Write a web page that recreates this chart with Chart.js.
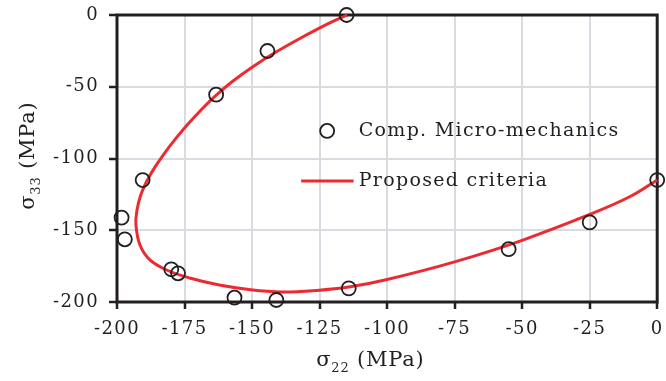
<!DOCTYPE html>
<html>
<head>
<meta charset="utf-8">
<script src="https://cdn.jsdelivr.net/npm/chart.js"></script>
<style>
  html, body { margin: 0; padding: 0; background: #fff; }
  #wrap { width: 666px; height: 381px; }
</style>
</head>
<body>
<div id="wrap"><canvas id="chart"></canvas></div>
<script>
// Comp. Micro-mechanics results (sigma22, sigma33)
var microS22 = [-115, -144.3, -163.3, -190.5, -198.3, -197.1, -179.9, -177.4, -156.5, -141, -114.2, -55, -25, 0];
var microS33 = [0, -25.1, -55.5, -115, -141.2, -156.3, -177.2, -180, -197, -198.6, -190.5, -163.2, -144.5, -115];

// Proposed criteria curve
var critS22 = [-114.8, -121.8, -131.95, -141.3, -149.7, -157.05, -163.35, -168.8, -173.7, -178.2, -182.3, -185.95, -189.05, -191.3, -192.6, -193.0,
               -191.5, -187.8, -181.6, -173.1, -162.1, -150.5, -139, -126.4, -114.2, -100, -75, -50, -25, -10, 0];
var critS33 = [0, -6, -16, -26, -36, -46, -56, -66, -76, -86, -96, -106, -116, -126, -136, -146,
               -160.3, -170.7, -177.7, -183.3, -188.2, -191.5, -193, -192, -189.6, -184.3, -172, -157, -139, -126.5, -115];

var xTicks = [-200, -175, -150, -125, -100, -75, -50, -25, 0];
var yTicks = [-200, -150, -100, -50, 0];

var FONT = 'DejaVu Serif';
var INK = '#231f20';

function pts(xs, ys) {
  return xs.map(function (x, i) { return { x: x, y: ys[i] }; });
}

function noPadding() { return { left: 0, top: 0, right: 0, bottom: 0 }; }

// wider letter spacing, like the original typeface
var spacingPlugin = {
  id: 'spacing',
  beforeDraw: function (chart) { chart.ctx.letterSpacing = '1.4px'; }
};

// black box round the plot area
var framePlugin = {
  id: 'frame',
  beforeDatasetsDraw: function (chart) {
    var a = chart.chartArea, c = chart.ctx;
    c.save();
    c.strokeStyle = INK;
    c.lineWidth = 3;
    c.strokeRect(a.left, a.top, a.right - a.left, a.bottom - a.top);
    c.restore();
  }
};

// sigma with subscript, then unit
function drawSubTitle(c, sym, sub, rest, cx, cy) {
  c.font = '21px ' + FONT;
  var w1 = c.measureText(sym).width;
  var w3 = c.measureText(rest).width;
  c.font = '13px ' + FONT;
  var w2 = c.measureText(sub).width;
  var x = cx - (w1 + w2 + w3) / 2;
  c.textBaseline = 'alphabetic';
  c.textAlign = 'left';
  c.font = '21px ' + FONT;
  c.fillText(sym, x, cy);
  c.font = '13px ' + FONT;
  c.fillText(sub, x + w1, cy + 6);
  c.font = '21px ' + FONT;
  c.fillText(rest, x + w1 + w2, cy);
}

var titlePlugin = {
  id: 'axisTitles',
  afterDraw: function (chart) {
    var a = chart.chartArea, c = chart.ctx;
    var w = a.right - a.left, h = a.bottom - a.top;
    c.save();
    c.fillStyle = INK;
    c.letterSpacing = '0.8px';
    drawSubTitle(c, 'σ', '22', ' (MPa)', a.left + w * 0.469, 366);
    c.translate(34, a.top + h * 0.49);
    c.rotate(-Math.PI / 2);
    drawSubTitle(c, 'σ', '33', ' (MPa)', 0, 0);
    c.restore();
  }
};

// legend drawn inside the plot area
var legendPlugin = {
  id: 'innerLegend',
  afterDatasetsDraw: function (chart) {
    var a = chart.chartArea, c = chart.ctx;
    var w = a.right - a.left, h = a.bottom - a.top;
    var sx = a.left + w * 0.389;
    var tx = a.left + w * 0.4475;
    var rows = [a.top + h * 0.404, a.top + h * 0.578];
    var ds = chart.data.datasets;
    c.save();
    c.font = '19px ' + FONT;
    c.letterSpacing = '1.3px';
    c.fillStyle = INK;
    c.textBaseline = 'middle';
    // scatter entry
    c.beginPath();
    c.arc(sx, rows[0], ds[0].pointRadius, 0, Math.PI * 2);
    c.strokeStyle = ds[0].pointBorderColor;
    c.lineWidth = ds[0].pointBorderWidth;
    c.stroke();
    c.fillText(ds[0].label, tx, rows[0]);
    // line entry
    c.beginPath();
    c.moveTo(a.left + w * 0.341, rows[1]);
    c.lineTo(a.left + w * 0.438, rows[1]);
    c.strokeStyle = ds[1].borderColor;
    c.lineWidth = ds[1].borderWidth;
    c.stroke();
    c.fillText(ds[1].label, tx, rows[1]);
    c.restore();
  }
};

var ctx = document.getElementById('chart');
var chart = new Chart(ctx, {
  type: 'scatter',
  data: {
    datasets: [
      {
        label: 'Comp. Micro-mechanics',
        data: pts(microS22, microS33),
        pointStyle: 'circle',
        pointRadius: 7,
        pointHoverRadius: 7,
        pointBorderColor: INK,
        pointBackgroundColor: 'rgba(0,0,0,0)',
        pointBorderWidth: 1.8,
        showLine: false,
        clip: false
      },
      {
        label: 'Proposed criteria',
        data: pts(critS22, critS33),
        showLine: true,
        borderColor: '#ed2a30',
        borderWidth: 3,
        pointRadius: 0,
        tension: 0.4,
        fill: false,
        clip: false
      }
    ]
  },
  options: {
    responsive: true,
    maintainAspectRatio: false,
    animation: false,
    events: [],
    layout: { padding: { top: 15, right: 6, left: 0, bottom: 0 } },
    plugins: {
      legend: { display: false },
      tooltip: { enabled: false }
    },
    scales: {
      x: {
        type: 'linear',
        min: -200,
        max: 0,
        afterBuildTicks: function (s) { s.ticks = xTicks.map(function (v) { return { value: v }; }); },
        afterFit: function (s) { s.height = 79; s.getPadding = noPadding; },
        grid: { color: '#d8dbe2', lineWidth: 2, tickColor: INK, tickLength: 7, tickWidth: 2.5 },
        border: { display: false },
        ticks: { color: INK, font: { family: FONT, size: 18 }, padding: 10, maxRotation: 0 },
        title: { display: false }
      },
      y: {
        type: 'linear',
        min: -200,
        max: 0,
        afterBuildTicks: function (s) { s.ticks = yTicks.map(function (v) { return { value: v }; }); },
        afterFit: function (s) { s.width = 117; s.getPadding = noPadding; },
        grid: { color: '#d8dbe2', lineWidth: 2, tickColor: INK, tickLength: 8, tickWidth: 2.5 },
        border: { display: false },
        ticks: { color: INK, font: { family: FONT, size: 18 }, padding: 10 },
        title: { display: false }
      }
    }
  },
  plugins: [spacingPlugin, framePlugin, legendPlugin, titlePlugin]
});
</script>
</body>
</html>
